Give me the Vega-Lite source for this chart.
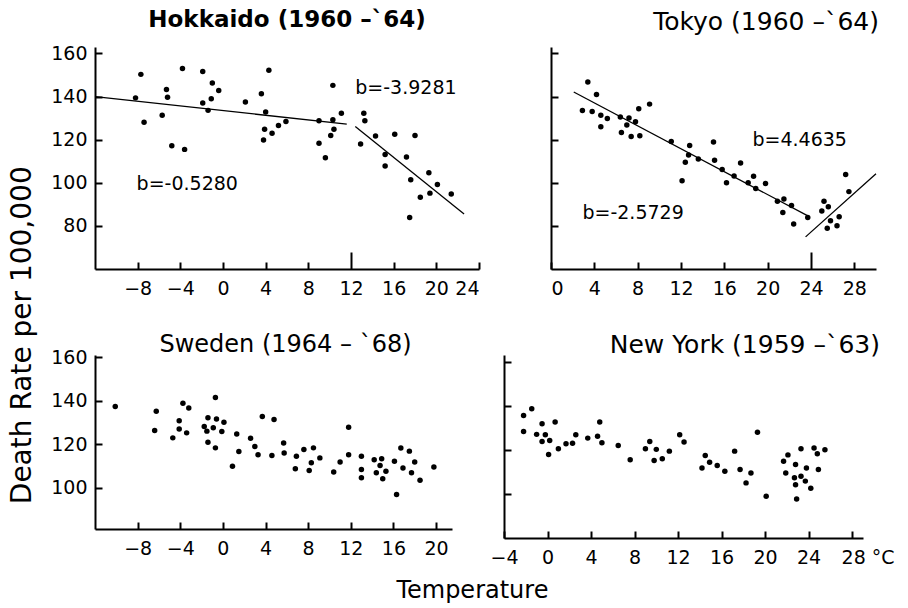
{
  "$schema": "https://vega.github.io/schema/vega-lite/v6.json",
  "background": "white",
  "padding": {"left": 8, "top": 9, "right": 5, "bottom": 5},
  "title": {"text": "Death Rate per 100,000", "orient": "left", "anchor": "middle", "font": "DejaVu Sans", "fontSize": 28, "fontWeight": "normal", "color": "black", "offset": 14, "dx": -29},
  "config": {
    "view": {"stroke": null},
    "font": "DejaVu Sans",
    "axis": {"domainColor": "black", "domainWidth": 2, "tickColor": "black", "tickWidth": 2, "tickSize": -7, "labelFont": "DejaVu Sans", "labelFontSize": 19, "labelColor": "black", "grid": false, "title": null, "labelPadding": 15},
    "axisX": {"labelPadding": 17},
    "title": {"font": "DejaVu Sans", "fontSize": 24, "fontWeight": "normal", "color": "black"}
  },
  "datasets": {
    "hokkaido": [
      {"t": -8.2, "d": 139.4}, {"t": -7.7, "d": 150.3}, {"t": -7.4, "d": 128.1}, {"t": -5.7, "d": 131.3}, {"t": -5.3, "d": 143.3}, {"t": -5.2, "d": 139.7}, {"t": -4.8, "d": 117.2}, {"t": -3.8, "d": 153}, {"t": -3.6, "d": 115.5}, {"t": -1.9, "d": 151.6}, {"t": -1.9, "d": 137}, {"t": -1.4, "d": 133.6}, {"t": -1.0, "d": 146.3}, {"t": -1.1, "d": 139}, {"t": -0.4, "d": 142.8}, {"t": 2.1, "d": 137.5}, {"t": 3.6, "d": 141.3}, {"t": 4.0, "d": 132.8}, {"t": 4.3, "d": 152.2}, {"t": 3.9, "d": 124.8}, {"t": 3.8, "d": 119.8}, {"t": 4.6, "d": 123}, {"t": 5.2, "d": 126.6}, {"t": 5.9, "d": 128.4}, {"t": 9.0, "d": 128.8}, {"t": 9.0, "d": 118.3}, {"t": 9.6, "d": 111.6}, {"t": 10.3, "d": 145.2}, {"t": 10.3, "d": 129.2}, {"t": 10.1, "d": 121.9}, {"t": 10.4, "d": 124.8}, {"t": 11.1, "d": 132.3}, {"t": 12.9, "d": 118}, {"t": 13.2, "d": 132.3}, {"t": 13.3, "d": 128.8}, {"t": 14.3, "d": 121.7}, {"t": 15.2, "d": 113.1}, {"t": 15.2, "d": 107.8}, {"t": 16.1, "d": 122.5}, {"t": 17.2, "d": 112}, {"t": 18.0, "d": 121.9}, {"t": 17.6, "d": 101.4}, {"t": 17.5, "d": 83.9}, {"t": 18.5, "d": 93.3}, {"t": 19.3, "d": 104.7}, {"t": 19.4, "d": 95.2}, {"t": 20.1, "d": 99.2}, {"t": 21.4, "d": 94.8}
    ],
    "hokkaido_lines": [
      {"seg": "a", "t": -12, "d": 140}, {"seg": "a", "t": 11.6, "d": 127.2},
      {"seg": "b", "t": 12.4, "d": 126.1}, {"seg": "b", "t": 22.6, "d": 85.5}
    ],
    "hokkaido_text": [
      {"t": 12.4, "d": 144, "label": "b=-3.9281"},
      {"t": -8.1, "d": 99.5, "label": "b=-0.5280"}
    ],
    "tokyo": [
      {"t": 3.4, "d": 146.8}, {"t": 4.2, "d": 141}, {"t": 2.9, "d": 133.5}, {"t": 3.8, "d": 133.1}, {"t": 4.6, "d": 131.3}, {"t": 5.2, "d": 129.8}, {"t": 4.6, "d": 126}, {"t": 6.4, "d": 130.5}, {"t": 7.0, "d": 126.8}, {"t": 7.2, "d": 130.1}, {"t": 7.8, "d": 128.3}, {"t": 6.5, "d": 123.3}, {"t": 7.4, "d": 121.5}, {"t": 8.2, "d": 121.8}, {"t": 8.1, "d": 134.3}, {"t": 9.1, "d": 136.5}, {"t": 11.1, "d": 119.2}, {"t": 12.8, "d": 117.3}, {"t": 12.7, "d": 112.9}, {"t": 12.4, "d": 109.5}, {"t": 12.1, "d": 100.9}, {"t": 13.6, "d": 111}, {"t": 15.0, "d": 118.9}, {"t": 15.1, "d": 110.5}, {"t": 15.8, "d": 106.2}, {"t": 16.9, "d": 103.2}, {"t": 16.2, "d": 100}, {"t": 17.5, "d": 109.2}, {"t": 18.2, "d": 100}, {"t": 18.7, "d": 103}, {"t": 18.9, "d": 97.4}, {"t": 19.8, "d": 99.7}, {"t": 20.9, "d": 91.4}, {"t": 21.5, "d": 92.5}, {"t": 21.4, "d": 86.2}, {"t": 22.2, "d": 89.5}, {"t": 22.4, "d": 80.9}, {"t": 23.7, "d": 83.9}, {"t": 25.2, "d": 91.4}, {"t": 25.0, "d": 86.9}, {"t": 25.6, "d": 88.9}, {"t": 25.8, "d": 82.4}, {"t": 26.6, "d": 84.2}, {"t": 25.5, "d": 78.9}, {"t": 26.4, "d": 80.1}, {"t": 27.2, "d": 103.8}, {"t": 27.5, "d": 95.9}
    ],
    "tokyo_lines": [
      {"seg": "a", "t": 2.1, "d": 142.1}, {"seg": "a", "t": 23.8, "d": 84.4},
      {"seg": "b", "t": 23.5, "d": 74.9}, {"seg": "b", "t": 30.0, "d": 104.2}
    ],
    "tokyo_text": [
      {"t": 18.6, "d": 120, "label": "b=4.4635"},
      {"t": 2.9, "d": 86.2, "label": "b=-2.5729"}
    ],
    "sweden": [
      {"t": -10.1, "d": 137.3}, {"t": -6.25, "d": 135.1}, {"t": -6.4, "d": 126.3}, {"t": -4.7, "d": 122.9}, {"t": -4.1, "d": 130.8}, {"t": -4.1, "d": 127}, {"t": -3.75, "d": 138.8}, {"t": -3.2, "d": 136.6}, {"t": -3.4, "d": 125.2}, {"t": -1.75, "d": 128.1}, {"t": -1.4, "d": 132.1}, {"t": -1.5, "d": 126}, {"t": -1.4, "d": 120.9}, {"t": -0.9, "d": 127.5}, {"t": -0.7, "d": 141.5}, {"t": -0.6, "d": 131.6}, {"t": -0.7, "d": 118.3}, {"t": -0.1, "d": 125.8}, {"t": 0.1, "d": 130.1}, {"t": 0.9, "d": 109.9}, {"t": 1.3, "d": 124.7}, {"t": 1.5, "d": 116.6}, {"t": 2.6, "d": 122.7}, {"t": 3.0, "d": 118.9}, {"t": 3.3, "d": 115.1}, {"t": 3.7, "d": 132.7}, {"t": 4.6, "d": 114.8}, {"t": 4.8, "d": 131.3}, {"t": 5.7, "d": 120.5}, {"t": 5.75, "d": 115.9}, {"t": 6.9, "d": 114.5}, {"t": 6.8, "d": 108.7}, {"t": 7.6, "d": 117.6}, {"t": 8.5, "d": 118.3}, {"t": 8.3, "d": 111.5}, {"t": 8.1, "d": 107.9}, {"t": 9.1, "d": 113.7}, {"t": 10.4, "d": 107.2}, {"t": 11.0, "d": 111.8}, {"t": 11.8, "d": 127.8}, {"t": 11.8, "d": 115.1}, {"t": 13.0, "d": 114.4}, {"t": 13.0, "d": 108.4}, {"t": 13.0, "d": 104.6}, {"t": 14.2, "d": 112.8}, {"t": 14.4, "d": 106.9}, {"t": 14.9, "d": 113.3}, {"t": 14.75, "d": 110.2}, {"t": 15.3, "d": 107.6}, {"t": 15.0, "d": 104.1}, {"t": 16.1, "d": 112.2}, {"t": 16.3, "d": 96.9}, {"t": 16.7, "d": 118.2}, {"t": 16.9, "d": 109}, {"t": 17.5, "d": 116.8}, {"t": 17.7, "d": 106.9}, {"t": 18.0, "d": 111.8}, {"t": 18.5, "d": 103.4}, {"t": 19.8, "d": 109.5}
    ],
    "newyork": [
      {"t": -2.2, "d": 135.6}, {"t": -1.45, "d": 138.6}, {"t": -2.2, "d": 128.3}, {"t": -1.0, "d": 127}, {"t": -0.5, "d": 131.8}, {"t": -0.2, "d": 126.8}, {"t": -0.5, "d": 123.8}, {"t": 0.2, "d": 124.2}, {"t": 0.1, "d": 117.9}, {"t": 0.7, "d": 132.6}, {"t": 1.0, "d": 120.5}, {"t": 1.7, "d": 122.7}, {"t": 2.3, "d": 123}, {"t": 2.6, "d": 126.8}, {"t": 3.7, "d": 125.3}, {"t": 4.6, "d": 126.1}, {"t": 4.8, "d": 132.6}, {"t": 5.0, "d": 123.2}, {"t": 6.5, "d": 122}, {"t": 7.6, "d": 115.5}, {"t": 9.0, "d": 120.5}, {"t": 9.4, "d": 123.8}, {"t": 10.0, "d": 120.2}, {"t": 9.8, "d": 115.2}, {"t": 10.55, "d": 115.9}, {"t": 11.2, "d": 119.4}, {"t": 12.15, "d": 126.8}, {"t": 12.55, "d": 123.5}, {"t": 14.2, "d": 111.7}, {"t": 14.5, "d": 117.4}, {"t": 14.9, "d": 114.4}, {"t": 15.6, "d": 112.9}, {"t": 16.3, "d": 110.3}, {"t": 17.2, "d": 119.4}, {"t": 17.7, "d": 111.1}, {"t": 18.25, "d": 105}, {"t": 18.7, "d": 109.5}, {"t": 19.3, "d": 128}, {"t": 20.1, "d": 98.9}, {"t": 21.7, "d": 114.8}, {"t": 22.1, "d": 117.7}, {"t": 21.9, "d": 109.5}, {"t": 22.8, "d": 113.3}, {"t": 22.7, "d": 107.3}, {"t": 23.3, "d": 108}, {"t": 22.8, "d": 104.1}, {"t": 22.9, "d": 97.7}, {"t": 23.3, "d": 120.5}, {"t": 23.8, "d": 111.7}, {"t": 23.7, "d": 105.8}, {"t": 24.2, "d": 102.6}, {"t": 24.5, "d": 120.8}, {"t": 24.8, "d": 118.2}, {"t": 24.9, "d": 111.1}, {"t": 25.5, "d": 120}
    ]
  },
  "spacing": 35,
  "vconcat": [
    {
      "bounds": "flush",
      "spacing": 72,
      "hconcat": [
        {
          "width": 384, "height": 222,
          "title": {"text": "Hokkaido (1960 –`64)", "anchor": "middle", "frame": "group", "fontWeight": "bold", "fontSize": 23, "offset": 12},
          "layer": [
            {
              "data": {"name": "hokkaido"},
              "mark": {"type": "circle", "size": 30, "color": "black", "opacity": 1},
              "encoding": {
                "x": {"field": "t", "type": "quantitative", "scale": {"domain": [-12, 24], "nice": false, "zero": false}, "axis": {"values": [-8, -4, 0, 4, 8, 12, 16, 20, 24], "tickSize": {"condition": {"test": "datum.value == 12", "value": -17}, "value": -7}, "labelPadding": {"condition": {"test": "datum.value == 12", "value": 27}, "value": 17}}},
                "y": {"field": "d", "type": "quantitative", "scale": {"domain": [60, 163], "nice": false, "zero": false}, "axis": {"values": [80, 100, 120, 140, 160]}}
              }
            },
            {
              "data": {"name": "hokkaido_lines"},
              "mark": {"type": "line", "color": "black", "strokeWidth": 1.3},
              "encoding": {
                "x": {"field": "t", "type": "quantitative"},
                "y": {"field": "d", "type": "quantitative"},
                "detail": {"field": "seg"}
              }
            },
            {
              "data": {"name": "hokkaido_text"},
              "mark": {"type": "text", "align": "left", "baseline": "middle", "fontSize": 19, "color": "black"},
              "encoding": {
                "x": {"field": "t", "type": "quantitative"},
                "y": {"field": "d", "type": "quantitative"},
                "text": {"field": "label"}
              }
            }
          ]
        },
        {
          "width": 325, "height": 222,
          "title": {"text": "Tokyo (1960 –`64)", "anchor": "end", "frame": "group", "fontSize": 25, "offset": 12, "dx": 3},
          "layer": [
            {
              "data": {"name": "tokyo"},
              "mark": {"type": "circle", "size": 30, "color": "black", "opacity": 1},
              "encoding": {
                "x": {"field": "t", "type": "quantitative", "scale": {"domain": [0, 30], "nice": false, "zero": false}, "axis": {"values": [0, 4, 8, 12, 16, 20, 24, 28], "tickSize": {"condition": {"test": "datum.value == 24", "value": -17}, "value": -7}, "labelPadding": {"condition": {"test": "datum.value == 24", "value": 27}, "value": 17}}},
                "y": {"field": "d", "type": "quantitative", "scale": {"domain": [60, 163], "nice": false, "zero": false}, "axis": {"values": [80, 100, 120, 140, 160], "labels": false}}
              }
            },
            {
              "data": {"name": "tokyo_lines"},
              "mark": {"type": "line", "color": "black", "strokeWidth": 1.3},
              "encoding": {
                "x": {"field": "t", "type": "quantitative"},
                "y": {"field": "d", "type": "quantitative"},
                "detail": {"field": "seg"}
              }
            },
            {
              "data": {"name": "tokyo_text"},
              "mark": {"type": "text", "align": "left", "baseline": "middle", "fontSize": 19, "color": "black"},
              "encoding": {
                "x": {"field": "t", "type": "quantitative"},
                "y": {"field": "d", "type": "quantitative"},
                "text": {"field": "label"}
              }
            }
          ]
        }
      ]
    },
    {
      "bounds": "flush",
      "spacing": 52,
      "title": {"text": "Temperature", "orient": "bottom", "anchor": "middle", "fontSize": 24, "offset": 12},
      "hconcat": [
        {
          "width": 357, "height": 174,
          "title": {"text": "Sweden (1964 – `68)", "anchor": "middle", "frame": "group", "dx": 12, "offset": -9},
          "data": {"name": "sweden"},
          "mark": {"type": "circle", "size": 30, "color": "black", "opacity": 1},
          "encoding": {
            "x": {"field": "t", "type": "quantitative", "scale": {"domain": [-12, 21.5], "nice": false, "zero": false}, "axis": {"values": [-8, -4, 0, 4, 8, 12, 16, 20]}},
            "y": {"field": "d", "type": "quantitative", "scale": {"domain": [81, 161], "nice": false, "zero": false}, "axis": {"values": [100, 120, 140, 160]}}
          }
        },
        {
          "width": 359, "height": 183,
          "title": {"text": "New York (1959 –`63)", "anchor": "end", "frame": "group", "fontSize": 25, "dx": 17, "offset": -3},
          "data": {"name": "newyork"},
          "mark": {"type": "circle", "size": 30, "color": "black", "opacity": 1},
          "encoding": {
            "x": {"field": "t", "type": "quantitative", "scale": {"domain": [-4, 29], "nice": false, "zero": false}, "axis": {"values": [-4, 0, 4, 8, 12, 16, 20, 24, 28], "labelExpr": "datum.value == 28 ? '28 °C' : datum.label", "labelAlign": {"condition": {"test": "datum.value == 28", "value": "left"}, "value": "center"}, "labelOffset": {"condition": {"test": "datum.value == 28", "value": -11}, "value": 0}}},
            "y": {"field": "d", "type": "quantitative", "scale": {"domain": [80, 163], "nice": false, "zero": false}, "axis": {"values": [100, 120, 140, 160], "labels": false}}
          }
        }
      ]
    }
  ]
}
